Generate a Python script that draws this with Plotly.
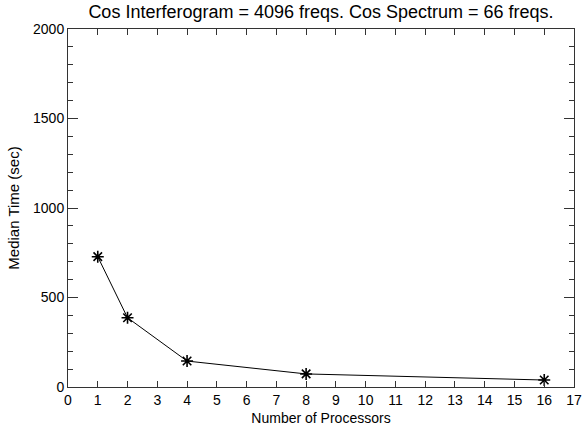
import plotly.graph_objects as go

processors = [1, 2, 4, 8, 16]
median_time = [728, 387, 145, 73, 39]
x_ticks = list(range(0, 18))
y_ticks = [0, 500, 1000, 1500, 2000]

title_text = "Cos Interferogram = 4096 freqs. Cos Spectrum = 66 freqs."
x_title = "Number of Processors"
y_title = "Median Time (sec)"

fig = go.Figure()
fig.add_trace(go.Scatter(
    x=processors, y=median_time, mode="lines+markers",
    line=dict(color="black", width=1),
    marker=dict(symbol="asterisk-open", size=10, color="black",
                line=dict(color="black", width=1.6)),
    showlegend=False,
))

axis_color = "#333333"
fig.update_layout(
    width=584, height=430,
    margin=dict(l=68, r=10, t=29, b=43, autoexpand=False),
    paper_bgcolor="white", plot_bgcolor="white",
    font=dict(family="Liberation Sans, Arial, sans-serif", color="black", size=14),
    title=dict(text=title_text, x=0.5, xref="paper", xanchor="center",
               y=1, yref="container", yanchor="top", pad=dict(t=5),
               font=dict(size=18, color="black")),
    xaxis=dict(range=[0, 17], tickvals=x_ticks, ticktext=[str(v) for v in x_ticks],
               ticks="inside", ticklen=6, tickcolor=axis_color,
               showline=True, linecolor=axis_color, linewidth=1, mirror="ticks",
               showgrid=False, zeroline=False, automargin=False,
               tickfont=dict(size=14),
               title=dict(text=x_title, font=dict(size=14), standoff=6)),
    yaxis=dict(range=[0, 2000], tickvals=y_ticks, ticktext=[str(v) for v in y_ticks],
               ticks="inside", ticklen=10, tickcolor=axis_color,
               showline=True, linecolor=axis_color, linewidth=1, mirror="ticks",
               showgrid=False, zeroline=False, automargin=False,
               minor=dict(dtick=100, ticks="inside", ticklen=5, tickcolor=axis_color, showgrid=False),
               tickfont=dict(size=14),
               title=dict(text=y_title, font=dict(size=15), standoff=9)),
)

fig.write_html("out.html")
